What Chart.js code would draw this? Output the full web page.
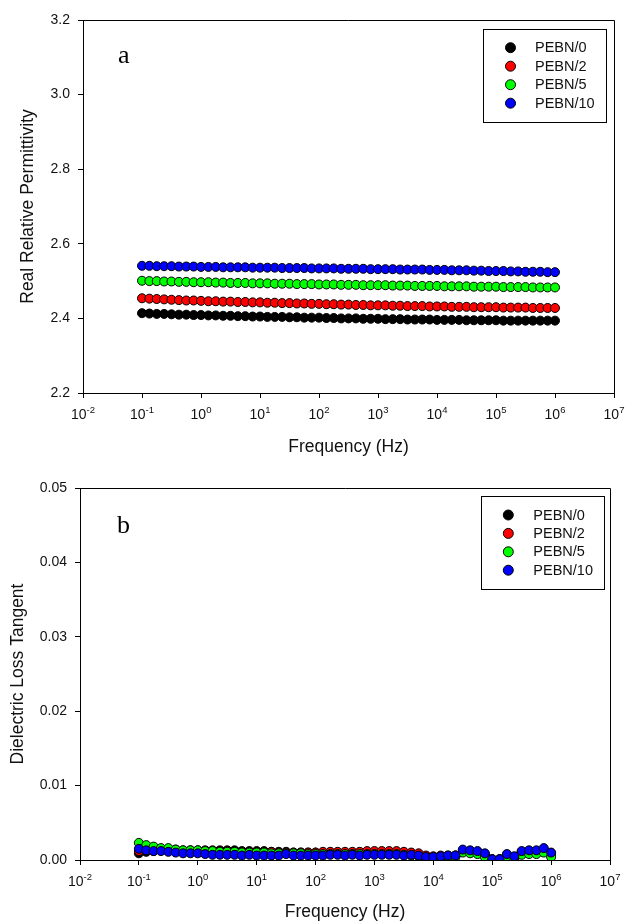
<!DOCTYPE html>
<html>
<head>
<meta charset="utf-8">
<script src="https://cdn.jsdelivr.net/npm/chart.js@4.4.1/dist/chart.umd.min.js"></script>
<style>
  html, body { margin: 0; padding: 0; background: #fff; }
  #wrapA { position: absolute; left: 0; top: 0; width: 625px; height: 460px; }
  #wrapB { position: absolute; left: 0; top: 460px; width: 625px; height: 462px; }
</style>
</head>
<body>
<div id="wrapA"><canvas id="chartA"></canvas></div>
<div id="wrapB"><canvas id="chartB"></canvas></div>
<script>
// frequencies (Hz), 8 points per decade
const freq = [0.1, 0.1334, 0.1778, 0.2371, 0.3162, 0.4217, 0.5623, 0.7499,
  1, 1.334, 1.778, 2.371, 3.162, 4.217, 5.623, 7.499,
  10, 13.34, 17.78, 23.71, 31.62, 42.17, 56.23, 74.99,
  100, 133.4, 177.8, 237.1, 316.2, 421.7, 562.3, 749.9,
  1000, 1334, 1778, 2371, 3162, 4217, 5623, 7499,
  10000, 13340, 17780, 23710, 31620, 42170, 56230, 74990,
  100000, 133400, 177800, 237100, 316200, 421700, 562300, 749900,
  1000000];

const seriesNames = ['PEBN/0', 'PEBN/2', 'PEBN/5', 'PEBN/10'];
const seriesColors = ['#000000', '#ff0000', '#00ff00', '#0000ff'];

const xTicks = [0.01, 0.1, 1, 10, 100, 1000, 10000, 100000, 1000000, 10000000];
const permTicks = [2.2, 2.4, 2.6, 2.8, 3.0, 3.2];
const lossTicks = [0, 0.01, 0.02, 0.03, 0.04, 0.05];

// (a) real relative permittivity
const permBN0 = [2.414, 2.413, 2.412, 2.412, 2.411, 2.410, 2.410, 2.409,
  2.409, 2.408, 2.408, 2.407, 2.407, 2.406, 2.406, 2.405,
  2.405, 2.404, 2.404, 2.404, 2.403, 2.403, 2.402, 2.402,
  2.402, 2.401, 2.401, 2.400, 2.400, 2.400, 2.399, 2.399,
  2.399, 2.398, 2.398, 2.398, 2.397, 2.397, 2.397, 2.397,
  2.396, 2.396, 2.396, 2.396, 2.395, 2.395, 2.395, 2.395,
  2.395, 2.394, 2.394, 2.394, 2.394, 2.394, 2.394, 2.394,
  2.394];
const permBN2 = [2.454, 2.453, 2.452, 2.451, 2.450, 2.449, 2.448, 2.448,
  2.447, 2.446, 2.446, 2.445, 2.445, 2.444, 2.444, 2.443,
  2.443, 2.442, 2.442, 2.441, 2.441, 2.440, 2.440, 2.439,
  2.439, 2.438, 2.438, 2.437, 2.437, 2.436, 2.436, 2.435,
  2.435, 2.435, 2.434, 2.434, 2.433, 2.433, 2.433, 2.432,
  2.432, 2.432, 2.431, 2.431, 2.431, 2.430, 2.430, 2.430,
  2.430, 2.429, 2.429, 2.429, 2.429, 2.428, 2.428, 2.428,
  2.428];
const permBN5 = [2.501, 2.500, 2.500, 2.499, 2.499, 2.498, 2.498, 2.497,
  2.497, 2.497, 2.496, 2.496, 2.495, 2.495, 2.495, 2.494,
  2.494, 2.494, 2.493, 2.493, 2.493, 2.492, 2.492, 2.492,
  2.491, 2.491, 2.491, 2.490, 2.490, 2.490, 2.489, 2.489,
  2.489, 2.489, 2.488, 2.488, 2.488, 2.487, 2.487, 2.487,
  2.487, 2.486, 2.486, 2.486, 2.486, 2.485, 2.485, 2.485,
  2.485, 2.484, 2.484, 2.484, 2.484, 2.483, 2.483, 2.483,
  2.483];
const permBN10 = [2.541, 2.541, 2.540, 2.540, 2.540, 2.539, 2.539, 2.539,
  2.538, 2.538, 2.538, 2.537, 2.537, 2.537, 2.537, 2.536,
  2.536, 2.536, 2.536, 2.535, 2.535, 2.535, 2.535, 2.534,
  2.534, 2.534, 2.534, 2.533, 2.533, 2.533, 2.533, 2.532,
  2.532, 2.532, 2.532, 2.531, 2.531, 2.531, 2.531, 2.530,
  2.530, 2.530, 2.529, 2.529, 2.529, 2.528, 2.528, 2.527,
  2.527, 2.527, 2.526, 2.526, 2.525, 2.525, 2.525, 2.524,
  2.524];

// (b) dielectric loss tangent
const lossBN0 = [0.0009, 0.0011, 0.0012, 0.0013, 0.0013, 0.0014, 0.0013, 0.0013,
  0.0013, 0.0013, 0.0013, 0.0013, 0.0013, 0.0013, 0.0012, 0.0012,
  0.0012, 0.0012, 0.0011, 0.0011, 0.0011, 0.0010, 0.0010, 0.0010,
  0.0010, 0.0010, 0.0010, 0.0010, 0.0010, 0.0010, 0.0010, 0.0010,
  0.0010, 0.0010, 0.0010, 0.0010, 0.0010, 0.0009, 0.0007, 0.0005,
  0.0003, 0.0004, 0.0005, 0.0006, 0.0012, 0.0012, 0.0011, 0.0008,
  0.0001, 0.0001, 0.0007, 0.0004, 0.0011, 0.0012, 0.0012, 0.0014,
  0.0009];
const lossBN2 = [0.0012, 0.0013, 0.0013, 0.0013, 0.0013, 0.0013, 0.0012, 0.0012,
  0.0012, 0.0012, 0.0012, 0.0012, 0.0012, 0.0011, 0.0011, 0.0011,
  0.0011, 0.0011, 0.0011, 0.0010, 0.0010, 0.0010, 0.0010, 0.0010,
  0.0010, 0.0011, 0.0011, 0.0011, 0.0011, 0.0011, 0.0011, 0.0012,
  0.0012, 0.0012, 0.0012, 0.0012, 0.0011, 0.0010, 0.0009, 0.0006,
  0.0005, 0.0006, 0.0006, 0.0006, 0.0011, 0.0011, 0.0010, 0.0007,
  0.0001, 0.0001, 0.0006, 0.0003, 0.0010, 0.0011, 0.0011, 0.0013,
  0.0008];
const lossBN5 = [0.0023, 0.0020, 0.0018, 0.0016, 0.0016, 0.0014, 0.0013, 0.0013,
  0.0013, 0.0012, 0.0012, 0.0011, 0.0011, 0.0011, 0.0010, 0.0010,
  0.0010, 0.0010, 0.0009, 0.0009, 0.0009, 0.0009, 0.0009, 0.0008,
  0.0008, 0.0008, 0.0008, 0.0008, 0.0008, 0.0008, 0.0008, 0.0008,
  0.0008, 0.0008, 0.0008, 0.0008, 0.0007, 0.0006, 0.0005, 0.0003,
  0.0003, 0.0004, 0.0004, 0.0004, 0.0010, 0.0009, 0.0008, 0.0004,
  0.0000, 0.0000, 0.0003, 0.0000, 0.0007, 0.0008, 0.0008, 0.0010,
  0.0004];
const lossBN10 = [0.0015, 0.0013, 0.0012, 0.0012, 0.0011, 0.0010, 0.0009, 0.0009,
  0.0009, 0.0008, 0.0007, 0.0007, 0.0007, 0.0007, 0.0006, 0.0007,
  0.0006, 0.0006, 0.0006, 0.0006, 0.0008, 0.0006, 0.0006, 0.0006,
  0.0006, 0.0006, 0.0007, 0.0007, 0.0006, 0.0007, 0.0006, 0.0007,
  0.0007, 0.0007, 0.0007, 0.0007, 0.0006, 0.0007, 0.0006, 0.0004,
  0.0004, 0.0005, 0.0006, 0.0006, 0.0014, 0.0013, 0.0012, 0.0009,
  0.0001, 0.0001, 0.0008, 0.0005, 0.0012, 0.0013, 0.0013, 0.0016,
  0.0010];

const SANS = "Arial, 'Liberation Sans', sans-serif";
const TEXT = '#111';

// turn a list of y values into scatter points
function toPoints(values) {
  return freq.map((f, i) => ({ x: f, y: values[i] }));
}

// draws the frame, decade labels, titles, panel letter and legend
function decorPlugin(cfg) {
  return {
    id: 'decor',
    afterDraw(chart) {
      const ctx = chart.ctx;
      const area = chart.chartArea;
      const xs = chart.scales.x;
      ctx.save();

      // top and right frame lines
      ctx.strokeStyle = '#000';
      ctx.lineWidth = 1;
      ctx.beginPath();
      ctx.moveTo(area.left, area.top + 0.5);
      ctx.lineTo(area.right + 0.5, area.top + 0.5);
      ctx.lineTo(area.right + 0.5, area.bottom);
      ctx.stroke();

      // x tick labels: 10 with superscript exponent
      ctx.fillStyle = TEXT;
      ctx.textBaseline = 'alphabetic';
      ctx.textAlign = 'left';
      xTicks.forEach(v => {
        const exp = String(Math.round(Math.log10(v)));
        const px = xs.getPixelForValue(v);
        ctx.font = '14px ' + SANS;
        const wBase = ctx.measureText('10').width;
        ctx.font = '9.5px ' + SANS;
        const wExp = ctx.measureText(exp).width;
        const x0 = px - (wBase + wExp) / 2;
        const base = area.bottom + 26;
        ctx.font = '14px ' + SANS;
        ctx.fillText('10', x0, base);
        ctx.font = '9.5px ' + SANS;
        ctx.fillText(exp, x0 + wBase, base - 6);
      });

      // axis titles
      ctx.font = '17.5px ' + SANS;
      ctx.textAlign = 'center';
      ctx.fillText('Frequency (Hz)', (area.left + area.right) / 2, cfg.xTitleY);
      ctx.save();
      ctx.translate(cfg.yTitleX, (area.top + area.bottom) / 2);
      ctx.rotate(-Math.PI / 2);
      ctx.fillText(cfg.yTitle, 0, 0);
      ctx.restore();

      // panel letter
      ctx.font = "26px 'Liberation Serif', 'Times New Roman', serif";
      ctx.textAlign = 'left';
      ctx.fillStyle = '#000';
      ctx.fillText(cfg.letter, cfg.letterX, cfg.letterY);

      // legend
      const lg = cfg.legend;
      ctx.strokeStyle = '#000';
      ctx.strokeRect(lg.x + 0.5, lg.y + 0.5, lg.w, lg.h);
      ctx.font = '14.5px ' + SANS;
      ctx.textBaseline = 'middle';
      chart.data.datasets.forEach((ds, i) => {
        const y = lg.row0 + i * lg.gap;
        ctx.beginPath();
        ctx.arc(lg.markX, y, 5, 0, Math.PI * 2);
        ctx.fillStyle = ds.backgroundColor;
        ctx.fill();
        ctx.strokeStyle = '#000';
        ctx.stroke();
        ctx.fillStyle = TEXT;
        ctx.fillText(ds.label, lg.textX, y + 0.5);
      });
      ctx.restore();
    }
  };
}

function buildChart(canvasId, series, cfg) {
  const datasets = series.map((vals, i) => ({
    label: seriesNames[i],
    data: toPoints(vals),
    backgroundColor: seriesColors[i],
    borderColor: '#000',
    pointBackgroundColor: seriesColors[i],
    pointBorderColor: '#000',
    pointBorderWidth: 1,
    pointRadius: 4.5,
    pointHoverRadius: 4.5,
    showLine: false,
    order: series.length - i   // last series drawn on top
  }));

  return new Chart(document.getElementById(canvasId), {
    type: 'scatter',
    data: { datasets: datasets },
    options: {
      responsive: true,
      maintainAspectRatio: false,
      animation: false,
      events: [],
      layout: { padding: cfg.padding },
      plugins: { legend: { display: false }, tooltip: { enabled: false } },
      scales: {
        x: {
          type: 'logarithmic',
          min: 0.01,
          max: 10000000,
          afterBuildTicks: s => { s.ticks = xTicks.map(v => ({ value: v })); },
          afterFit: s => { s.height = cfg.xHeight; },
          ticks: { display: false },
          grid: { drawOnChartArea: false, drawTicks: true, tickLength: 5, color: '#000' },
          border: { display: true, color: '#000', width: 1 }
        },
        y: {
          min: cfg.yTicks[0],
          max: cfg.yTicks[cfg.yTicks.length - 1],
          afterBuildTicks: s => { s.ticks = cfg.yTicks.map(v => ({ value: v })); },
          afterFit: s => { s.width = cfg.yWidth; },
          ticks: {
            padding: 8,
            color: TEXT,
            font: { family: SANS, size: 14 },
            callback: v => Number(v).toFixed(cfg.decimals)
          },
          grid: { drawOnChartArea: false, drawTicks: true, tickLength: 5, color: '#000' },
          border: { display: true, color: '#000', width: 1 }
        }
      }
    },
    plugins: [decorPlugin(cfg)]
  });
}

buildChart('chartA', [permBN0, permBN2, permBN5, permBN10], {
  yTicks: permTicks,
  decimals: 1,
  padding: { top: 20, right: 11, left: 0, bottom: 0 },
  yWidth: 83,
  xHeight: 67,
  yTitle: 'Real Relative Permittivity',
  yTitleX: 33,
  xTitleY: 452,
  letter: 'a',
  letterX: 118,
  letterY: 63,
  legend: { x: 483, y: 29, w: 123, h: 93, markX: 510.5, textX: 535, row0: 47.7, gap: 18.5 }
});

buildChart('chartB', [lossBN0, lossBN2, lossBN5, lossBN10], {
  yTicks: lossTicks,
  decimals: 2,
  padding: { top: 28, right: 15, left: 0, bottom: 0 },
  yWidth: 80,
  xHeight: 62,
  yTitle: 'Dielectric Loss Tangent',
  yTitleX: 22.5,
  xTitleY: 456.5,
  letter: 'b',
  letterX: 117,
  letterY: 72.5,
  legend: { x: 481, y: 36, w: 123, h: 93, markX: 508.3, textX: 533.3, row0: 55, gap: 18.4 }
});
</script>
</body>
</html>
